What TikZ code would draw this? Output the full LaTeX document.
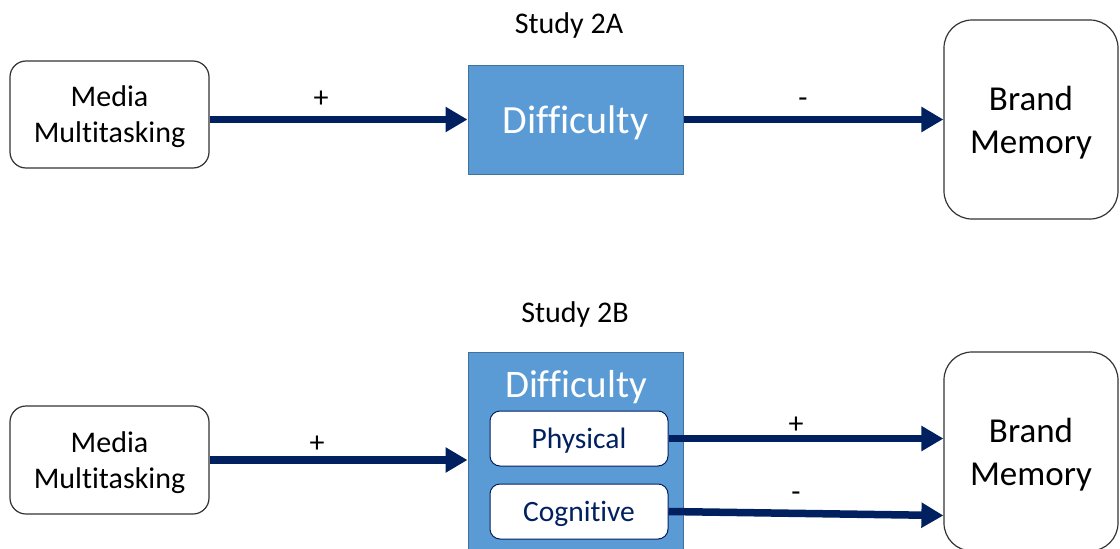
\documentclass[tikz,border=0pt]{standalone}
\usepackage{fontspec}
\setmainfont{Carlito}[Ligatures=NoCommon]
\usetikzlibrary{arrows.meta,calc}
\definecolor{navy}{HTML}{002060}
\definecolor{blockblue}{HTML}{5B9BD5}
\definecolor{blockedge}{HTML}{41719C}
\tikzset{
  fs/.style 2 args={font=\fontsize{#1}{#2}\selectfont},
  plainbox/.style={draw=black!80, line width=1.2pt, fill=white, rounded corners=16pt,
    inner sep=0pt, align=center, text depth=0pt, fs={30}{36}},
  memorybox/.style={plainbox, rounded corners=28pt, fs={35}{43}},
  bluebox/.style={draw=blockedge, line width=1pt, fill=blockblue, inner sep=0pt,
    text=white, text depth=0pt, fs={40}{48}},
  subbox/.style={draw=navy, line width=1pt, fill=white, rounded corners=10pt,
    inner sep=0pt, text=navy, text depth=0pt, fs={29.5}{35}, minimum width=178pt, minimum height=55pt},
  link/.style={draw=navy, line width=7.5pt, -{Triangle[length=22pt,width=24pt]}},
  sign/.style={fs={30}{36}, inner sep=0pt},
  title/.style={fs={30}{36}, inner sep=0pt},
}
\begin{document}
\begin{tikzpicture}[x=1pt,y=-1pt]
\useasboundingbox (0,0) rectangle (1120,549);
\fill[white] (0,0) rectangle (1120,549);

% Study 2A
\node[title] (t2a) at (569,26) {Study 2A};
\node[plainbox, minimum width=199pt, minimum height=107pt] (mm1) at (109.5,114.5)
  {Media\\Multitasking};
\node[bluebox, minimum width=215pt, minimum height=109pt] (d1) at (575.5,119.5) {Difficulty};
\node[memorybox, minimum width=174pt, minimum height=199pt] (bm1) at (1031,119.5)
  {Brand\\Memory};
\draw[link] (mm1.east |- d1.west) -- (d1.west);
\draw[link] (d1.east) -- (d1.east -| bm1.west);
\node[sign] (p1) at (321,99) {+};
\node[sign] (m1) at (803,103) {-};

% Study 2B
\node[title] (t2b) at (575,314) {Study 2B};
\node[plainbox, minimum width=199pt, minimum height=108pt] (mm2) at (109.5,460)
  {Media\\Multitasking};
\node[bluebox, minimum width=215pt, minimum height=208pt] (d2) at (575.5,456) {};
\node[text=white, fs={39}{46}, inner sep=0pt, text depth=0pt] (d2lab) at (576,384) {Difficulty};
\node[subbox] (phys) at (579,438.5) {Physical};
\node[subbox] (cog) at (579,511.5) {Cognitive};
\node[memorybox, minimum width=174pt, minimum height=199pt] (bm2) at (1031,451.5)
  {Brand\\Memory};
\draw[link] (mm2.east) -- (mm2.east -| d2.west);
\draw[link] (phys.east) -- (phys.east -| bm2.west);
\draw[link] (cog.east) -- ($(cog.east -| bm2.west)+(0,4)$);
\node[sign] (p2) at (317,444) {+};
\node[sign] (p3) at (796,425) {+};
\node[sign] (m2) at (796,497) {-};
\end{tikzpicture}
\end{document}
